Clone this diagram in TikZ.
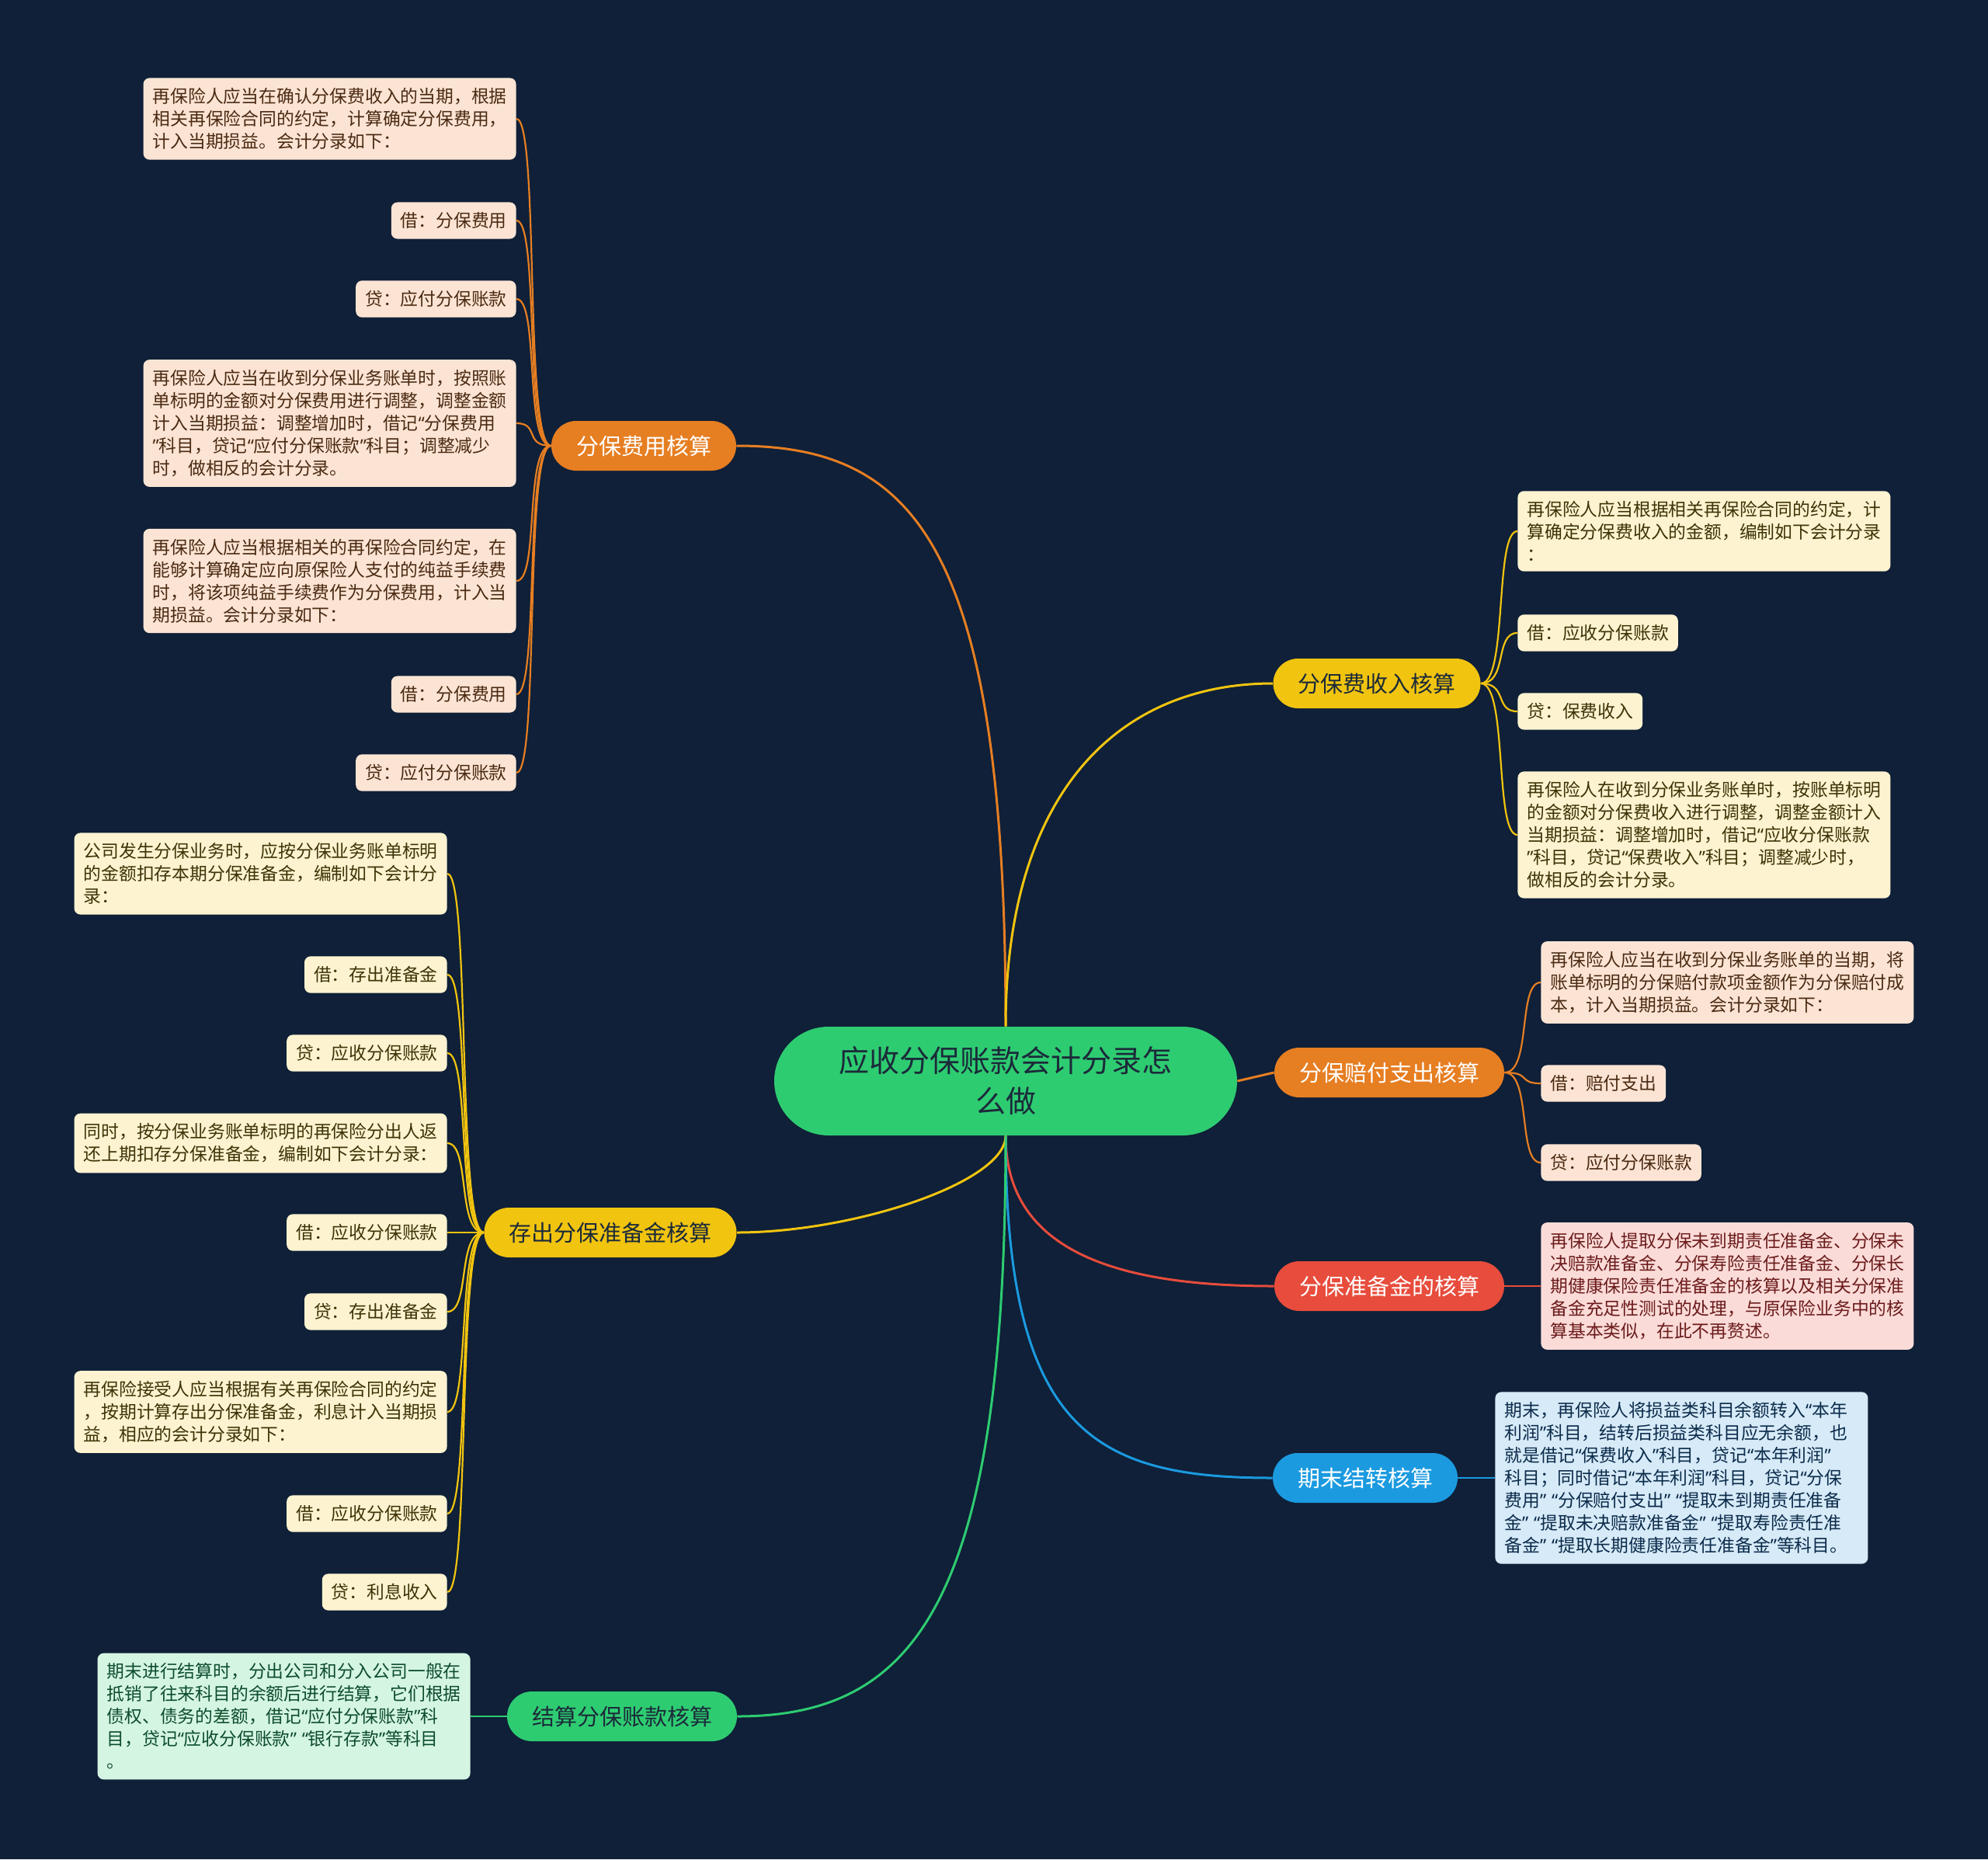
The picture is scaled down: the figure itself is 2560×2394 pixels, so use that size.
\documentclass[tikz,border=0pt]{standalone}
\usepackage{fontspec}
\setmainfont{Noto Sans CJK SC}
\newfontfamily\latinq{Noto Sans}
\usetikzlibrary{positioning}
\definecolor{bgnavy}{HTML}{0F2038}
\definecolor{orng}{HTML}{E67E22}
\definecolor{yelw}{HTML}{F1C40F}
\definecolor{redd}{HTML}{E74C3C}
\definecolor{blu}{HTML}{1B9AE0}
\definecolor{grn}{HTML}{2ECC71}
\definecolor{peach}{HTML}{FCE4D4}
\definecolor{cream}{HTML}{FDF3D0}
\definecolor{rose}{HTML}{FADBD8}
\definecolor{sky}{HTML}{D6EAF8}
\definecolor{mint}{HTML}{D5F5E3}
\definecolor{brwn}{HTML}{4A2A12}
\definecolor{olive}{HTML}{3D3306}
\definecolor{wine}{HTML}{6B1B1B}
\definecolor{navyink}{HTML}{0B2B4A}
\definecolor{pine}{HTML}{0D4D2B}
\definecolor{rootink}{HTML}{1B2A3A}
\newcommand{\leaffont}{\fontsize{11.4}{14.5}\selectfont}
\newcommand{\branchfont}{\fontsize{14.5}{17}\selectfont}
\newcommand{\rootfont}{\fontsize{19.5}{26}\selectfont}
\newcommand{\oq}{{\latinq “}}
\newcommand{\cq}{{\latinq ”}}
\newcommand{\qq}{{\latinq ”\hspace{0.3em}“}}

\begin{document}
\begin{tikzpicture}[x=0.5pt,y=-0.5pt,
  leaf/.style={rounded corners=4pt,inner xsep=6pt,inner ysep=6.5pt,font=\leaffont,align=left},
  para/.style={leaf,text width=228pt},
  branch/.style={rounded corners=16pt,minimum height=32pt,inner xsep=16pt,font=\branchfont},
  root/.style={fill=grn,text=rootink,rounded corners=35pt,minimum width=298pt,
    minimum height=70pt,align=center,font=\rootfont},
  link/.style={line width=1.5pt},
  twig/.style={line width=1.1pt}]
  \fill[bgnavy] (0,0) rectangle (2560,2394);

  % centre and main branches
  \node[root] (c) at (1295,1392) {应收分保账款会计分录怎\\么做};
  \node[branch,fill=orng,text=white] (b1) at (829,574) {分保费用核算};
  \node[branch,fill=yelw,text=rootink] (b2) at (1773,880) {分保费收入核算};
  \node[branch,fill=orng,text=white] (b3) at (1789,1381) {分保赔付支出核算};
  \node[branch,fill=redd,text=white] (b4) at (1789,1656) {分保准备金的核算};
  \node[branch,fill=blu,text=white] (b5) at (1758,1903) {期末结转核算};
  \node[branch,fill=yelw,text=rootink] (b6) at (786,1587) {存出分保准备金核算};
  \node[branch,fill=grn,text=rootink] (b7) at (801,2210) {结算分保账款核算};

  \draw[link,orng] (c.north) .. controls +(0,-620) and +(230,0) .. (b1.east);
  \draw[link,yelw] (c.north) .. controls +(0,-300) and +(-200,0) .. (b2.west);
  \draw[link,orng] (c.east) -- (b3.west);
  \draw[link,redd] (c.south) .. controls +(0,150) and +(-200,0) .. (b4.west);
  \draw[link,blu] (c.south) .. controls +(0,380) and +(-230,0) .. (b5.west);
  \draw[link,yelw] (c.south) .. controls +(0,60) and +(150,0) .. (b6.east);
  \draw[link,grn] (c.south) .. controls +(0,600) and +(230,0) .. (b7.east);

  % 分保费用核算
  \foreach \n/\y/\s/\t in {
    a/153/para/{再保险人应当在确认分保费收入的当期，根据\\相关再保险合同的约定，计算确定分保费用，\\计入当期损益。会计分录如下：},
    b/284/leaf/{借：分保费用},
    c/385/leaf/{贷：应付分保账款},
    d/545/para/{再保险人应当在收到分保业务账单时，按照账\\单标明的金额对分保费用进行调整，调整金额\\计入当期损益：调整增加时，借记\oq 分保费用\\\cq 科目，贷记\oq 应付分保账款\cq 科目；调整减少\\时，做相反的会计分录。},
    e/748/para/{再保险人应当根据相关的再保险合同约定，在\\能够计算确定应向原保险人支付的纯益手续费\\时，将该项纯益手续费作为分保费用，计入当\\期损益。会计分录如下：},
    f/894/leaf/{借：分保费用},
    g/995/leaf/{贷：应付分保账款}}
    \node[\s,fill=peach,text=brwn,anchor=east] (f\n) at (665,\y) {\t};
  \foreach \n in {a,b,c,d,e,f,g}
    \draw[twig,orng] (b1.west) .. controls +(-35,0) and +(30,0) .. (f\n.east);

  % 分保费收入核算
  \foreach \n/\y/\s/\t in {
    a/684/para/{再保险人应当根据相关再保险合同的约定，计\\算确定分保费收入的金额，编制如下会计分录\\：},
    b/815/leaf/{借：应收分保账款},
    c/916/leaf/{贷：保费收入},
    d/1075/para/{再保险人在收到分保业务账单时，按账单标明\\的金额对分保费收入进行调整，调整金额计入\\当期损益：调整增加时，借记\oq 应收分保账款\\\cq 科目，贷记\oq 保费收入\cq 科目；调整减少时，\\做相反的会计分录。}}
    \node[\s,fill=cream,text=olive,anchor=west] (s\n) at (1954,\y) {\t};
  \foreach \n in {a,b,c,d}
    \draw[twig,yelw] (b2.east) .. controls +(35,0) and +(-30,0) .. (s\n.west);

  % 分保赔付支出核算
  \foreach \n/\y/\s/\t in {
    a/1265/para/{再保险人应当在收到分保业务账单的当期，将\\账单标明的分保赔付款项金额作为分保赔付成\\本，计入当期损益。会计分录如下：},
    b/1395/leaf/{借：赔付支出},
    c/1497/leaf/{贷：应付分保账款}}
    \node[\s,fill=peach,text=brwn,anchor=west] (p\n) at (1984,\y) {\t};
  \foreach \n in {a,b,c}
    \draw[twig,orng] (b3.east) .. controls +(35,0) and +(-30,0) .. (p\n.west);

  % 分保准备金的核算
  \node[para,fill=rose,text=wine,anchor=west] (r) at (1984,1656)
    {再保险人提取分保未到期责任准备金、分保未\\决赔款准备金、分保寿险责任准备金、分保长\\期健康保险责任准备金的核算以及相关分保准\\备金充足性测试的处理，与原保险业务中的核\\算基本类似，在此不再赘述。};
  \draw[twig,redd] (b4.east) -- (r.west);

  % 期末结转核算
  \node[para,fill=sky,text=navyink,anchor=west] (q) at (1925,1903)
    {期末，再保险人将损益类科目余额转入\oq 本年\\利润\cq 科目，结转后损益类科目应无余额，也\\就是借记\oq 保费收入\cq 科目，贷记\oq 本年利润\cq\\科目；同时借记\oq 本年利润\cq 科目，贷记\oq 分保\\费用\qq 分保赔付支出\qq 提取未到期责任准备\\金\qq 提取未决赔款准备金\qq 提取寿险责任准\\备金\qq 提取长期健康险责任准备金\cq 等科目。};
  \draw[twig,blu] (b5.east) -- (q.west);

  % 存出分保准备金核算
  \foreach \n/\y/\s/\t in {
    a/1125/para/{公司发生分保业务时，应按分保业务账单标明\\的金额扣存本期分保准备金，编制如下会计分\\录：},
    b/1255/leaf/{借：存出准备金},
    c/1356/leaf/{贷：应收分保账款},
    d/1472/para/{同时，按分保业务账单标明的再保险分出人返\\还上期扣存分保准备金，编制如下会计分录：},
    e/1587/leaf/{借：应收分保账款},
    f/1689/leaf/{贷：存出准备金},
    g/1818/para/{再保险接受人应当根据有关再保险合同的约定\\，按期计算存出分保准备金，利息计入当期损\\益，相应的会计分录如下：},
    h/1949/leaf/{借：应收分保账款},
    i/2050/leaf/{贷：利息收入}}
    \node[\s,fill=cream,text=olive,anchor=east] (d\n) at (576,\y) {\t};
  \foreach \n in {a,b,c,d,e,f,g,h,i}
    \draw[twig,yelw] (b6.west) .. controls +(-35,0) and +(30,0) .. (d\n.east);

  % 结算分保账款核算
  \node[para,fill=mint,text=pine,anchor=east] (m) at (606,2210)
    {期末进行结算时，分出公司和分入公司一般在\\抵销了往来科目的余额后进行结算，它们根据\\债权、债务的差额，借记\oq 应付分保账款\cq 科\\目，贷记\oq 应收分保账款\qq 银行存款\cq 等科目\\。};
  \draw[twig,grn] (b7.west) -- (m.east);
\end{tikzpicture}
\end{document}
